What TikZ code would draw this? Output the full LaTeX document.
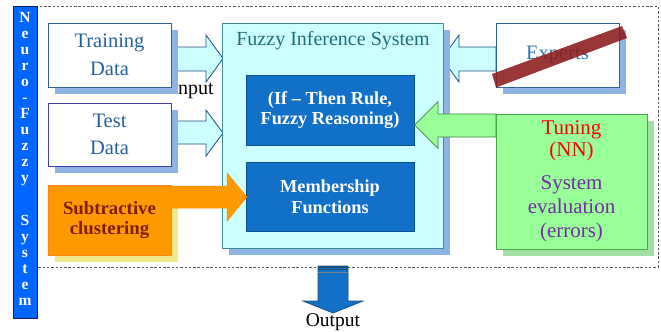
\documentclass[tikz,border=0pt]{standalone}
\usepackage{fontspec}
\setmainfont{Liberation Serif}
\usetikzlibrary{shadows}

\definecolor{barblue}{HTML}{0066FF}
\definecolor{barline}{HTML}{1A1A50}
\definecolor{shadeblue}{HTML}{8DB4E2}
\definecolor{steelline}{HTML}{31639A}
\definecolor{steeltext}{HTML}{23609E}
\definecolor{violetline}{HTML}{4040A8}
\definecolor{orangefill}{HTML}{FF9900}
\definecolor{orangeline}{HTML}{FF8418}
\definecolor{yellowshade}{HTML}{F0E88A}
\definecolor{brickred}{HTML}{7F1F00}
\definecolor{cyanfill}{HTML}{CCFFFF}
\definecolor{tealline}{HTML}{3C8C96}
\definecolor{tealtext}{HTML}{1F6E7A}
\definecolor{innerblue}{HTML}{1170C8}
\definecolor{innerline}{HTML}{0B4F8F}
\definecolor{navyline}{HTML}{1F4E79}
\definecolor{greenfill}{HTML}{99FF99}
\definecolor{greenline}{HTML}{4DA64D}
\definecolor{greenshade}{HTML}{A0E0A0}
\definecolor{purpletext}{HTML}{7030A0}
\definecolor{expertstext}{HTML}{2E75B6}
\definecolor{strikered}{HTML}{8E1B1B}

\newcommand\setfs[2]{\fontsize{#1bp}{#2bp}\selectfont}

\tikzset{
  box/.style={rectangle, inner sep=0pt, outer sep=0pt, line width=0.9bp, align=center},
  blueshadow/.style={general shadow={fill=shadeblue, shadow xshift=7bp, shadow yshift=-7bp}},
  datebox/.style={box, blueshadow, fill=white, draw=steelline, text=steeltext,
    minimum width=123bp, font=\setfs{20.5}{28}},
  innerbox/.style={box, fill=innerblue, draw=innerline, text=white,
    minimum width=168bp, minimum height=70bp, font=\bfseries\setfs{18.3}{21}},
  cyanarrow/.style={fill=cyanfill, draw=navyline, line width=0.8bp, line join=miter},
  barletter/.style={anchor=base, text=white, font=\bfseries\setfs{15.5}{15.5}, inner sep=0pt},
}

\begin{document}
\begin{tikzpicture}[x=1bp, y=-1bp]
\useasboundingbox (0,0) rectangle (661,331);

% outer dashed frame of the neuro-fuzzy system
\draw[gray!70!black, dash pattern=on 2.5bp off 1.8bp, line width=0.7bp] (37,6) rectangle (658,267);

% label partly hidden behind the training data box
\node[anchor=base east, inner sep=0pt, font=\setfs{20}{20}] (inputlbl) at (214,94) {Input};

% input arrows drawn first so the boxes sit on top of them
\draw[cyanarrow] (171,47) -- (206,47) -- (206,35) -- (223,58.5) -- (206,82) -- (206,71) -- (171,71) -- cycle;
\draw[cyanarrow] (171,121) -- (206,121) -- (206,110) -- (223,133) -- (206,156) -- (206,144) -- (171,144) -- cycle;
\draw[cyanarrow] (496,47) -- (459,47) -- (459,35) -- (442,58.5) -- (459,82) -- (459,71) -- (496,71) -- cycle;

% data sources
\node[datebox, minimum height=64bp] (train) at (109.5,55) {Training\\Data};
\node[datebox, minimum height=63bp, draw=violetline, font=\setfs{20.5}{27}] (test) at (109.5,134.5) {Test\\Data};
\node[box, general shadow={fill=yellowshade, shadow xshift=7bp, shadow yshift=-7bp},
  fill=orangefill, draw=orangeline, text=brickred, minimum width=123bp, minimum height=70bp,
  font=\bfseries\setfs{18.8}{21}] (subclust) at (109.5,220) {\raisebox{-1bp}{Subtractive}\\clustering};

% fuzzy inference system
\node[box, blueshadow, fill=cyanfill, draw=tealline, minimum width=221bp, minimum height=225bp] (fis) at (332.5,135.5) {};
\node[anchor=base, inner sep=0pt, text=tealtext, font=\setfs{20}{20}] (fistitle) at (333,45.7) {Fuzzy Inference System};
\node[innerbox] (rule) at (330,110) {\raisebox{-1bp}{(If – Then Rule,}\\Fuzzy Reasoning)};
\node[innerbox, minimum height=69bp] (member) at (330,196.5) {Membership\\Functions};

% clustering feeds the membership functions
\draw[fill=orangefill, draw=orangefill!90!red, line width=0.5bp] (171,186) -- (227,186) -- (227,173) -- (247,197) -- (227,221) -- (227,208) -- (171,208) -- cycle;

% tuning feeds back into the rule base
\draw[fill=greenfill, draw=greenline!80!black, line width=0.7bp] (496,114) -- (438,114) -- (438,101.7) -- (414.5,125) -- (438,148.3) -- (438,137) -- (496,137) -- cycle;

% experts (struck out)
\node[datebox, minimum height=64bp, text=expertstext] (experts) at (557.5,55) {\raisebox{-2.5bp}{Experts}};
\fill[strikered, opacity=0.88] (492,74) -- (622,26) -- (627,38) -- (496,87.5) -- cycle;

% tuning / evaluation block
\node[box, general shadow={fill=greenshade, shadow xshift=7bp, shadow yshift=-7bp},
  fill=greenfill, draw=greenline, minimum width=151bp, minimum height=135bp,
  font=\setfs{21}{24}] (tuning) at (571.5,181.5)
  {\raisebox{-2.5bp}{\textcolor{red}{Tuning}}\\\textcolor{red}{(NN)}\\[9bp]\textcolor{purpletext}{System}\\\textcolor{purpletext}{evaluation}\\\textcolor{purpletext}{(errors)}};

% vertical title bar
\node[box, fill=barblue, draw=barline, line width=1bp, minimum width=24bp, minimum height=312bp] (bar) at (25,162) {};
\foreach \ch [count=\i from 0] in {N,e,u,r,o,-,F,u,z,z,y}
  \node[barletter] (bl\i) at (25,22.5+16*\i) {\ch};
\foreach \ch [count=\j from 0] in {S,y,s,t,e,m}
  \node[barletter] (bs\j) at (25,225+16*\j) {\ch};

% output arrow
\draw[fill=innerblue, draw=navyline, line width=0.8bp, line join=miter] (318,266) -- (348,266) -- (348,301) -- (363,301) -- (333,313) -- (303,301) -- (318,301) -- cycle;
\draw[navyline, line width=2bp] (318,267) -- (348,267);
\draw[navyline, line width=0.6bp] (318,269.5) -- (348,269.5);
\draw[gray, line width=0.8bp] (318,272.8) -- (348,272.8);
\node[anchor=base, inner sep=0pt, font=\setfs{19.5}{20}] (outputlbl) at (333,326) {Output};
\end{tikzpicture}
\end{document}
